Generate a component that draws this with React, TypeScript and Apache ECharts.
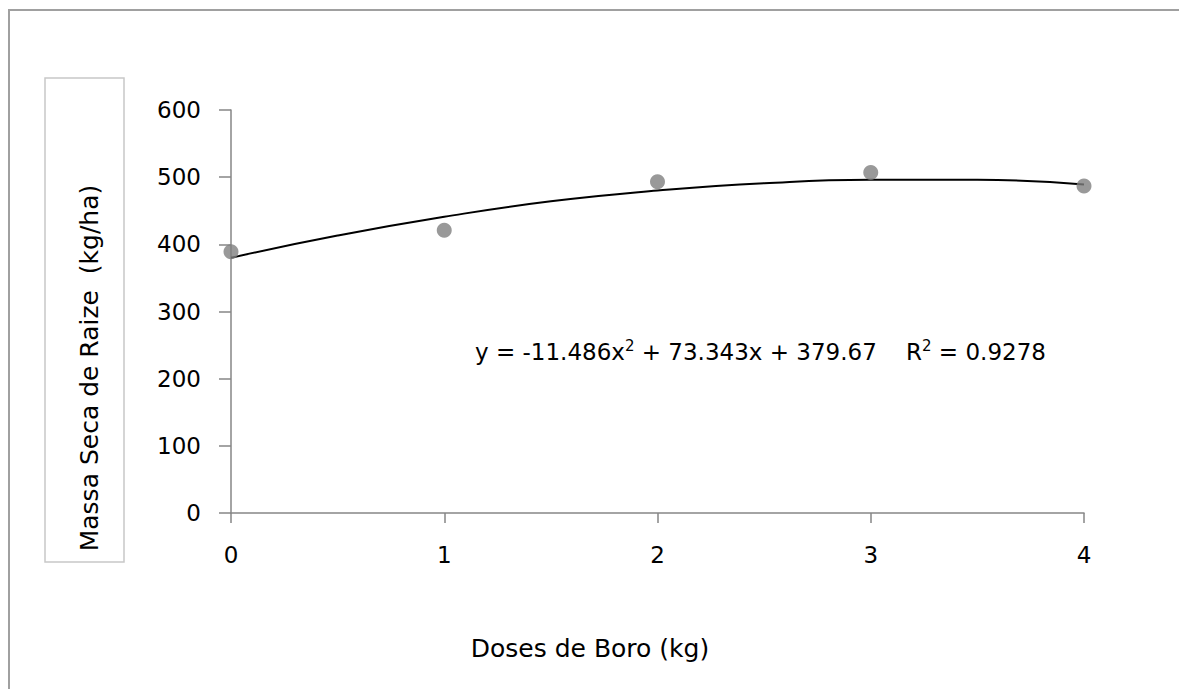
import React, { useEffect, useRef } from "react";
import * as echarts from "echarts";

const doses = [0, 1, 2, 3, 4];
const massa = [389, 421, 493, 507, 487];
// trendline at half-unit steps
const trendX = [0, 0.5, 1, 1.5, 2, 2.5, 3, 3.5, 4];
const trendY = [380, 413, 441, 464, 480, 491, 496, 496, 489];
const yTicks = [0, 100, 200, 300, 400, 500, 600];

const FONT = "DejaVu Sans";

export default function App() {
  const ref = useRef<HTMLDivElement>(null);
  useEffect(() => {
    const chart = echarts.init(ref.current!, null, { renderer: "svg" });
    chart.setOption({
      animation: false,
      backgroundColor: "#fff",
      grid: { left: 231, right: 103, top: 110, bottom: 184, containLabel: false },
      xAxis: {
        type: "value",
        min: 0,
        max: 4,
        interval: 1,
        axisLine: { show: true, lineStyle: { color: "#868686", width: 1.5 } },
        axisTick: { show: true, length: 10, inside: false, lineStyle: { color: "#868686", width: 1.5 } },
        axisLabel: { color: "#000", fontFamily: FONT, fontSize: 23, margin: 30 },
        splitLine: { show: false },
      },
      yAxis: {
        type: "value",
        min: yTicks[0],
        max: yTicks[yTicks.length - 1],
        interval: 100,
        axisLine: { show: true, lineStyle: { color: "#868686", width: 1.5 } },
        axisTick: { show: true, length: 12, lineStyle: { color: "#868686", width: 1.5 } },
        axisLabel: { color: "#000", fontFamily: FONT, fontSize: 23, margin: 30 },
        splitLine: { show: false },
      },
      series: [
        {
          type: "line",
          data: trendX.map((x, i) => [x, trendY[i]]),
          smooth: true,
          showSymbol: false,
          lineStyle: { color: "#000", width: 2 },
          z: 2,
        },
        {
          type: "scatter",
          data: doses.map((x, i) => [x, massa[i]]),
          symbol: "circle",
          symbolSize: 15,
          itemStyle: { color: "#7f7f7f" },
          z: 3,
        },
      ],
      graphic: [
        { type: "line", shape: { x1: 8, y1: 10, x2: 1187, y2: 10 }, style: { stroke: "#a0a0a0", lineWidth: 2 } },
        { type: "line", shape: { x1: 9, y1: 10, x2: 9, y2: 697 }, style: { stroke: "#a0a0a0", lineWidth: 2 } },
        {
          type: "rect",
          shape: { x: 45, y: 78, width: 79, height: 484 },
          style: { fill: "none", stroke: "#c8c8c8", lineWidth: 1.5 },
        },
        {
          type: "text",
          x: 89,
          y: 368,
          rotation: Math.PI / 2,
          style: {
            text: "Massa Seca de Raize  (kg/ha)",
            font: `25px "${FONT}"`,
            fill: "#000",
            align: "center",
            verticalAlign: "middle",
          },
        },
        {
          type: "text",
          x: 590,
          y: 648,
          style: {
            text: "Doses de Boro (kg)",
            font: `25px "${FONT}"`,
            fill: "#000",
            align: "center",
            verticalAlign: "middle",
          },
        },
        {
          type: "text",
          x: 475,
          y: 352,
          style: {
            text: "y = -11.486x{s|2} + 73.343x + 379.67    R{s|2} = 0.9278",
            font: `23px "${FONT}"`,
            fill: "#000",
            align: "left",
            verticalAlign: "middle",
            rich: {
              s: { fontSize: 15, fontFamily: FONT, verticalAlign: "top", padding: [0, 0, 12, 0] },
            },
          },
        },
      ],
    });
    return () => chart.dispose();
  }, []);
  return <div ref={ref} style={{ width: 1187, height: 697, margin: -8 }} />;
}
